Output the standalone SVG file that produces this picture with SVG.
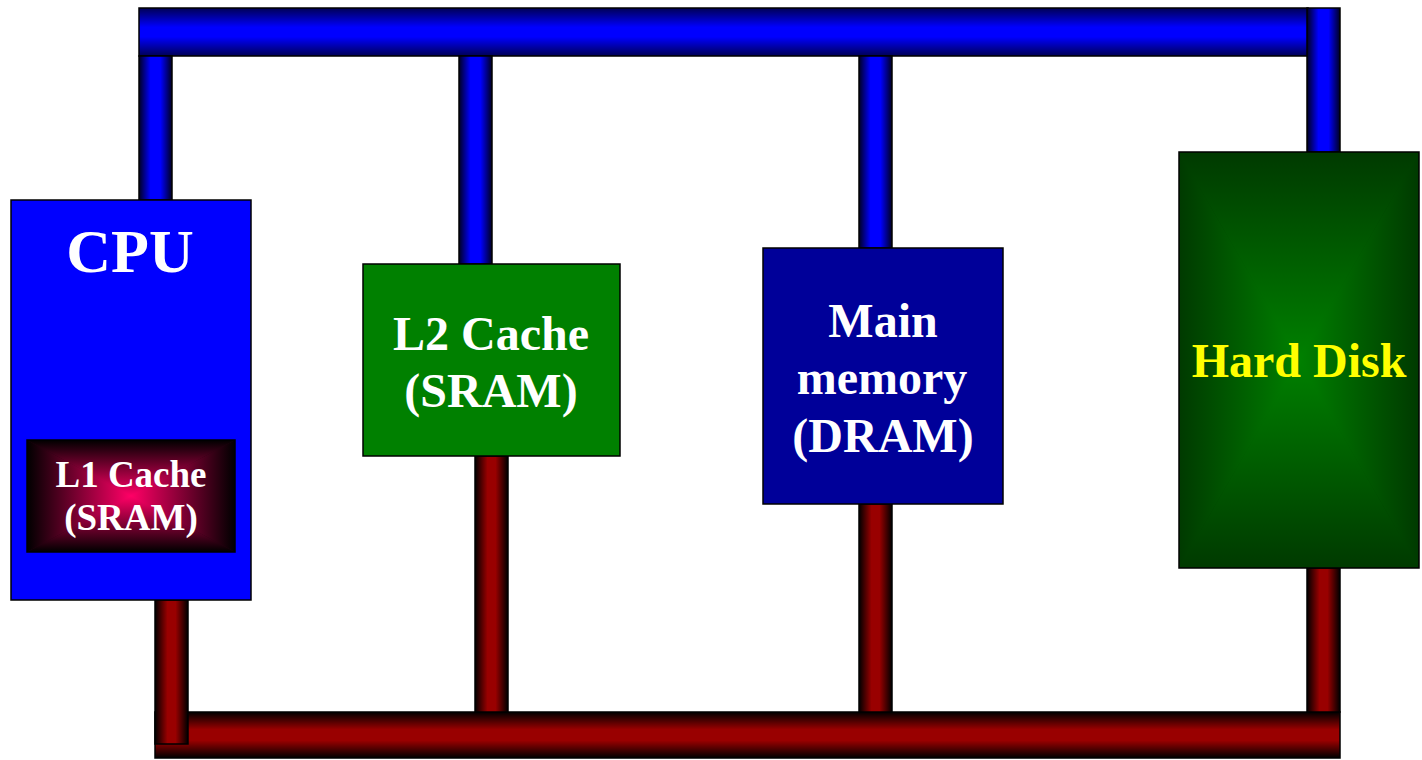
<svg xmlns="http://www.w3.org/2000/svg" width="1422" height="760" viewBox="0 0 1422 760">
  <defs>
    <!-- pipe shading: dark rims, bright core -->
    <linearGradient id="blueV" x1="0" y1="0" x2="1" y2="0">
      <stop offset="0" stop-color="#000022"/>
      <stop offset="0.35" stop-color="#0000ff"/>
      <stop offset="0.65" stop-color="#0000ff"/>
      <stop offset="1" stop-color="#000022"/>
    </linearGradient>
    <linearGradient id="blueH" x1="0" y1="0" x2="0" y2="1">
      <stop offset="0" stop-color="#000055"/>
      <stop offset="0.4" stop-color="#0000ff"/>
      <stop offset="0.6" stop-color="#0000ff"/>
      <stop offset="1" stop-color="#000055"/>
    </linearGradient>
    <linearGradient id="redV" x1="0" y1="0" x2="1" y2="0">
      <stop offset="0" stop-color="#000000"/>
      <stop offset="0.38" stop-color="#990000"/>
      <stop offset="0.62" stop-color="#990000"/>
      <stop offset="1" stop-color="#000000"/>
    </linearGradient>
    <linearGradient id="redH" x1="0" y1="0" x2="0" y2="1">
      <stop offset="0" stop-color="#000000"/>
      <stop offset="0.38" stop-color="#990000"/>
      <stop offset="0.62" stop-color="#990000"/>
      <stop offset="1" stop-color="#000000"/>
    </linearGradient>

    <!-- rectangular (edge-to-centre) fills built from four triangles -->
    <linearGradient id="pkD" x1="0" y1="0" x2="0" y2="1"><stop offset="0" stop-color="#000000"/><stop offset="1" stop-color="#ff0066"/></linearGradient>
    <linearGradient id="pkU" x1="0" y1="1" x2="0" y2="0"><stop offset="0" stop-color="#000000"/><stop offset="1" stop-color="#ff0066"/></linearGradient>
    <linearGradient id="pkR" x1="0" y1="0" x2="1" y2="0"><stop offset="0" stop-color="#000000"/><stop offset="1" stop-color="#ff0066"/></linearGradient>
    <linearGradient id="pkL" x1="1" y1="0" x2="0" y2="0"><stop offset="0" stop-color="#000000"/><stop offset="1" stop-color="#ff0066"/></linearGradient>
    <radialGradient id="pkBase"><stop offset="0" stop-color="#ff0066"/><stop offset="1" stop-color="#220011"/></radialGradient>

    <linearGradient id="gnD" x1="0" y1="0" x2="0" y2="1"><stop offset="0" stop-color="#003a00"/><stop offset="1" stop-color="#008000"/></linearGradient>
    <linearGradient id="gnU" x1="0" y1="1" x2="0" y2="0"><stop offset="0" stop-color="#003a00"/><stop offset="1" stop-color="#008000"/></linearGradient>
    <linearGradient id="gnR" x1="0" y1="0" x2="1" y2="0"><stop offset="0" stop-color="#003a00"/><stop offset="1" stop-color="#008000"/></linearGradient>
    <linearGradient id="gnL" x1="1" y1="0" x2="0" y2="0"><stop offset="0" stop-color="#003a00"/><stop offset="1" stop-color="#008000"/></linearGradient>
    <radialGradient id="gnBase"><stop offset="0" stop-color="#008000"/><stop offset="1" stop-color="#004000"/></radialGradient>

    <style>
      .edge { stroke: #000; stroke-width: 1.5; }
      .lbl { font-family: "Liberation Serif", "Times New Roman", serif; font-weight: bold; text-anchor: middle; }
      .w { fill: #ffffff; }
      .y { fill: #ffff00; }
    </style>
  </defs>

  <!-- system bus: blue (top) and red (bottom) pipes -->
  <g id="connectors">
    <rect x="139" y="8" width="1169" height="48" fill="url(#blueH)" class="edge"/>
    <rect x="139" y="56" width="33" height="144" fill="url(#blueV)" class="edge"/>
    <rect x="459" y="56" width="33" height="208" fill="url(#blueV)" class="edge"/>
    <rect x="859" y="56" width="33" height="192" fill="url(#blueV)" class="edge"/>
    <rect x="1307" y="8" width="33" height="144" fill="url(#blueV)" class="edge"/>

    <rect x="155" y="712" width="1185" height="46" fill="url(#redH)" class="edge"/>
    <rect x="475" y="456" width="33" height="256" fill="url(#redV)" class="edge"/>
    <rect x="859" y="504" width="33" height="208" fill="url(#redV)" class="edge"/>
    <rect x="1307" y="568" width="33" height="144" fill="url(#redV)" class="edge"/>
    <rect x="155" y="600" width="33" height="144" fill="url(#redV)" class="edge"/>
  </g>

  <g id="cpu">
    <rect x="11" y="200" width="240" height="400" fill="#0000ff" class="edge"/>
    <text x="130" y="272" class="lbl w" font-size="62">CPU</text>
  </g>

  <g id="l1-cache">
    <rect x="27" y="440" width="208" height="112" fill="url(#pkBase)"/>
    <polygon points="27,440 235,440 131,496" fill="url(#pkD)"/>
    <polygon points="27,552 235,552 131,496" fill="url(#pkU)"/>
    <polygon points="27,440 27,552 131,496" fill="url(#pkR)"/>
    <polygon points="235,440 235,552 131,496" fill="url(#pkL)"/>
    <rect x="27" y="440" width="208" height="112" fill="none" class="edge"/>
    <text x="131" y="487" class="lbl w" font-size="37">L1 Cache</text>
    <text x="131" y="530" class="lbl w" font-size="37">(SRAM)</text>
  </g>

  <g id="l2-cache">
    <rect x="363" y="264" width="257" height="192" fill="#008000" class="edge"/>
    <text x="491" y="350" class="lbl w" font-size="48">L2 Cache</text>
    <text x="491" y="407" class="lbl w" font-size="48">(SRAM)</text>
  </g>

  <g id="main-memory">
    <rect x="763" y="248" width="240" height="256" fill="#000099" class="edge"/>
    <text x="883" y="337" class="lbl w" font-size="48">Main</text>
    <text x="882" y="394" class="lbl w" font-size="48">memory</text>
    <text x="883" y="452" class="lbl w" font-size="48">(DRAM)</text>
  </g>

  <g id="hard-disk">
    <rect x="1179" y="152" width="240" height="416" fill="url(#gnBase)"/>
    <polygon points="1179,152 1419,152 1299,360" fill="url(#gnD)"/>
    <polygon points="1179,568 1419,568 1299,360" fill="url(#gnU)"/>
    <polygon points="1179,152 1179,568 1299,360" fill="url(#gnR)"/>
    <polygon points="1419,152 1419,568 1299,360" fill="url(#gnL)"/>
    <rect x="1179" y="152" width="240" height="416" fill="none" class="edge"/>
    <text x="1299" y="377" class="lbl y" font-size="48">Hard Disk</text>
  </g>
</svg>
